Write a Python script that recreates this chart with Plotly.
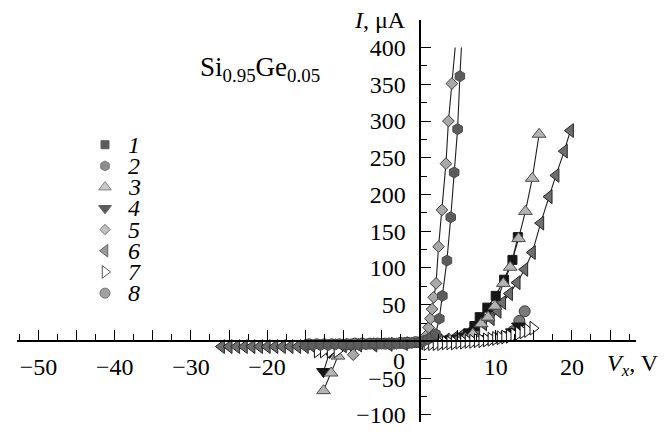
import plotly.graph_objects as go

# ---------------- data ----------------
s1_x = [1.0, 2.0, 3.0, 4.0, 4.8, 5.6, 6.4, 7.2, 7.9, 8.9, 10.0, 11.1, 12.2, 12.9]
s1_y = [0, 0.5, 1, 1.5, 2.5, 5, 11, 21, 33, 46, 62, 84, 111, 142]

s2_x = [-15, -14, -13, -12, -11, -10, -9, -8, -7, -6, -5, -4, -3, -2, -1, 0,
        0.6, 1.1, 1.6, 2.1, 2.6, 3.0, 3.6, 4.1, 4.55, 5.0, 5.3, 5.5]
s2_y = [-5, -5, -5, -5, -4, -4, -4, -4, -4, -3, -3, -3, -3, -3, -2, -1,
        1, 3, 6, 10, 31, 62, 110, 169, 230, 289, 361, 400]

s3_x = [-12.6, -11.6, -10.7, -10.0, -8, -6, -4, -2, 0, 1, 2, 3, 4, 5, 6,
        7.0, 8.1, 9.0, 9.9, 11.0, 11.9, 13.0, 13.9, 14.8, 15.7]
s3_y = [-67, -43, -20, -6, -4, -4, -3, -3, -2, 0, 0.5, 1, 1.5, 2.5, 4,
        10, 24, 33, 48, 79, 101, 140, 177, 222, 282]

s4_x = [-12.6, -11.8, -11.0, -10, -8, -6, -4, -2, 0, 1, 2, 3, 4, 5, 6, 7, 8,
        9, 10, 11, 11.6, 12.2, 13.0]
s4_y = [-41, -15, -5, -3, -3, -3, -2, -2, -1, 0, 0, 0.5, 1, 1, 2, 2.5, 3,
        4, 5, 7, 9, 13, 21]

s5_x = [-9.6, -8.7, -8.0, -6, -4, -2, 0, 0.6, 0.9, 1.2, 1.43, 1.65, 1.86,
        2.17, 2.5, 2.95, 3.47, 3.8, 4.25, 4.68]
s5_y = [-4, -18, -4, -3, -3, -2, -1, 2, 8, 19, 31, 44, 60,
        79, 129, 179, 242, 300, 351, 400]

s6_x = [-26, -25, -24, -23, -22, -21, -20, -19, -18, -17, -16, -15, -14,
        -12, -10, -8, -6, -4, -2, 0,
        1.5, 2.5, 3.5, 4.5, 5.5, 6.6, 7.5, 8.4, 9.4, 10.3, 10.9, 11.8, 12.8,
        13.8, 14.8, 15.9, 17.0, 17.9, 19.0, 19.8]
s6_y = [-7, -7, -7, -7, -7, -7, -7, -7, -7, -7, -7, -7, -7,
        -6, -6, -5, -5, -4, -3, -2,
        0, 1, 2, 4, 8, 13, 18, 24, 31, 41, 53, 65, 80,
        98, 121, 161, 197, 226, 259, 287]

s7_x = [-13.4, -12.6, -11.7, -10.8, None,
        1.0, 1.6, 2.2, 2.8, 3.4, 4.0, 4.6, 5.2, 5.8, 6.4, 7.0, 7.6, 8.2, 8.8,
        9.4, 10.0, 10.6, 11.2, 11.8, 12.4, 13.0, 13.6, 14.2, 14.9]
s7_y = [-13, -13, -13, -13, None,
        -3, -3, -3, -3, -2, -2, -2, -1, -1, 0, 0, 1, 1, 2,
        3, 4, 5, 6, 7, 9, 11, 13, 15, 18]

s8_x = [-14.5, -13.5, -12.5, -11.5, -10.5, -9.5, -8.5, -7.5, -6.5, -5.5,
        -4.5, -3.5, -2.5, -1.5, -0.5, None, 12.3, 13.1, 13.8]
s8_y = [-4, -4, -4, -4, -4, -4, -3, -3, -3, -3,
        -3, -3, -2, -2, -1, None, 14, 28, 41]

series_names = ["1", "2", "3", "4", "5", "6", "7", "8"]
x_tick_labels = {-50: "\u221250", -40: "\u221240", -30: "\u221230", -20: "\u221220",
                 10: "10", 20: "20"}
y_tick_labels = {-100: "\u2212100", -50: "\u221250", 50: "50", 100: "100", 150: "150",
                 200: "200", 250: "250", 300: "300", 350: "350", 400: "400"}

# ---------------- styles ----------------
FONT = "Liberation Serif"
W, H = 668, 435
data = {
    "1": (s1_x, s1_y), "2": (s2_x, s2_y), "3": (s3_x, s3_y), "4": (s4_x, s4_y),
    "5": (s5_x, s5_y), "6": (s6_x, s6_y), "7": (s7_x, s7_y), "8": (s8_x, s8_y),
}
style = {
    "1": dict(symbol="square", color="#161616", line="#161616", size=9),
    "2": dict(symbol="hexagon", color="#5c5c5c", line="#4a4a4a", size=11),
    "3": dict(symbol="triangle-up", color="#b4b4b4", line="#4d4d4d", size=12),
    "4": dict(symbol="triangle-down", color="#161616", line="#161616", size=12),
    "5": dict(symbol="diamond", color="#a8a8a8", line="#3c3c3c", size=9),
    "6": dict(symbol="triangle-left", color="#6e6e6e", line="#262626", size=12),
    "7": dict(symbol="triangle-right", color="#ffffff", line="#111111", size=12),
    "8": dict(symbol="circle", color="#7a7a7a", line="#3a3a3a", size=11),
}
line_only_tail = {"2", "5"}   # last point only continues the line upward
draw_order = ["6", "5", "1", "8", "4", "3", "7", "2"]

fig = go.Figure()

# connecting lines first
for name in draw_order:
    xs, ys = data[name]
    fig.add_trace(go.Scatter(x=xs, y=ys, mode="lines", connectgaps=False,
                             line=dict(color="#1e1e1e", width=1.1),
                             hoverinfo="skip", showlegend=False))
# markers
for name in draw_order:
    xs, ys = data[name]
    if name in line_only_tail:
        xs, ys = xs[:-1], ys[:-1]
    st = style[name]
    fig.add_trace(go.Scatter(x=xs, y=ys, mode="markers", name=name,
                             marker=dict(symbol=st["symbol"], size=st["size"], color=st["color"],
                                         line=dict(color=st["line"], width=1)),
                             showlegend=False))

# hand-made legend on an invisible auxiliary axis pair (row = series index)
legend_rows = [int(n) for n in series_names]
fig.add_trace(go.Scatter(
    x=[0] * len(series_names), y=legend_rows, mode="markers",
    xaxis="x2", yaxis="y2", showlegend=False, hoverinfo="skip",
    marker=dict(symbol=[style[n]["symbol"] for n in series_names],
                size=[style[n]["size"] - 1 for n in series_names],
                color=[style[n]["color"] for n in series_names],
                line=dict(color=[style[n]["line"] for n in series_names], width=1))))

# ---------------- axes ----------------
px_per_x = 7.62
x0_px = 419.5
y0_px = 346.2
px_per_y = 0.7449
x_left_px, x_right_px = 17, 636
y_top_px, y_bot_px = 20, 428
x_range = [(x_left_px - x0_px) / px_per_x, (x_right_px - x0_px) / px_per_x]
y_range = [(y0_px - y_bot_px) / px_per_y, (y0_px - y_top_px) / px_per_y]

x_major = list(range(-50, 30, 5))
x_minor = [-52.5] + [v + 2.5 for v in x_major if v + 2.5 < x_range[1]]
y_major = list(range(-100, 450, 50))
y_minor = [v + 25 for v in y_major if v + 25 < 420]

tickfont = dict(family=FONT, size=24, color="black")

fig.update_layout(
    width=W, height=H, margin=dict(l=0, r=0, t=0, b=0),
    paper_bgcolor="white", plot_bgcolor="white", showlegend=False,
    font=dict(family=FONT, color="black"),
    xaxis=dict(domain=[x_left_px / W, x_right_px / W], range=x_range,
               anchor="free", position=(H - y0_px) / H,
               showline=True, linecolor="black", linewidth=2,
               showgrid=False, zeroline=False,
               ticks="inside", ticklen=10, tickwidth=1.3, tickcolor="black",
               tickmode="array", tickvals=x_major,
               ticktext=[x_tick_labels.get(v, "") for v in x_major],
               tickfont=tickfont, ticklabelstandoff=4,
               minor=dict(tickmode="array", tickvals=x_minor, ticks="inside",
                          ticklen=6, tickwidth=1.3, tickcolor="black", showgrid=False),
               fixedrange=True),
    yaxis=dict(domain=[(H - y_bot_px) / H, (H - y_top_px) / H], range=y_range,
               anchor="free", position=x0_px / W,
               showline=True, linecolor="black", linewidth=2,
               showgrid=False, zeroline=False,
               ticks="inside", ticklen=10, tickwidth=1.3, tickcolor="black",
               tickmode="array", tickvals=y_major,
               ticktext=[y_tick_labels.get(v, "") for v in y_major],
               tickfont=tickfont, ticklabelstandoff=8,
               minor=dict(tickmode="array", tickvals=y_minor, ticks="inside",
                          ticklen=6, tickwidth=1.3, tickcolor="black", showgrid=False),
               fixedrange=True),
    xaxis2=dict(domain=[90 / W, 160 / W], range=[-15, 55], anchor="y2",
                visible=False, fixedrange=True),
    yaxis2=dict(domain=[(H - 308) / H, (H - 136) / H],
                range=[8.5, 0.5], anchor="x2", visible=False, fixedrange=True),
)

annotations = [
    dict(text="0", x=0, y=0, xref="x", yref="y", xanchor="right", yanchor="middle",
         xshift=-13, yshift=-20, showarrow=False, font=tickfont),
    dict(text="<i>I</i>, \u03bcA", x=408 / W, y=(H - 20) / H, xref="paper", yref="paper",
         xanchor="right", yanchor="middle", showarrow=False, font=tickfont),
    dict(text="<i>V<sub>x</sub></i>, V", x=661 / W, y=(H - 370) / H, xref="paper", yref="paper",
         xanchor="right", yanchor="middle", showarrow=False, font=tickfont),
    dict(text="Si<sub>0.95</sub>Ge<sub>0.05</sub>", x=198 / W, y=(H - 70) / H,
         xref="paper", yref="paper", xanchor="left", yanchor="middle",
         showarrow=False, font=dict(family=FONT, size=27, color="black")),
]
for n, row in zip(series_names, legend_rows):
    annotations.append(dict(text="<i>%s</i>" % n, x=29, y=row, xref="x2", yref="y2",
                            xanchor="center", yanchor="middle", showarrow=False,
                            font=dict(family=FONT, size=24, color="black")))
fig.update_layout(annotations=annotations)

fig.write_html("out.html")
